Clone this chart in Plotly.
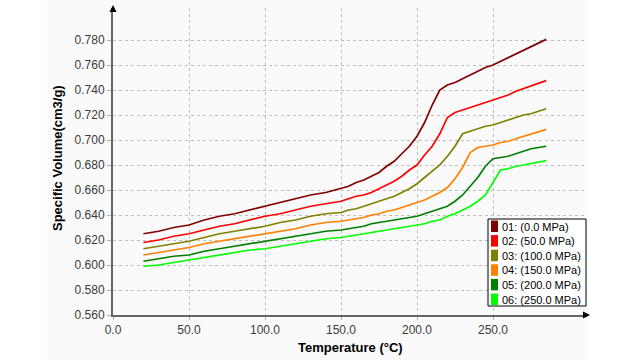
import plotly.graph_objects as go

temps = [20, 30, 40, 50, 60, 70, 80, 90, 100, 110, 120, 130, 140, 150,
         155, 160, 165, 170, 175, 180, 185, 190, 195, 200, 205, 210, 215,
         220, 225, 230, 235, 240, 245, 250, 255, 260, 265, 270, 275, 280, 285]

v_000 = [0.625, 0.627, 0.630, 0.632, 0.636, 0.639, 0.641, 0.644, 0.647, 0.650, 0.653, 0.656, 0.658, 0.661,
         0.663, 0.666, 0.668, 0.671, 0.674, 0.679, 0.683, 0.689, 0.695, 0.703, 0.714, 0.728, 0.740,
         0.744, 0.746, 0.749, 0.752, 0.755, 0.758, 0.760, 0.763, 0.766, 0.769, 0.772, 0.775, 0.778, 0.7805]
v_050 = [0.618, 0.620, 0.623, 0.625, 0.628, 0.631, 0.633, 0.636, 0.639, 0.641, 0.644, 0.647, 0.649, 0.651,
         0.653, 0.655, 0.656, 0.658, 0.661, 0.664, 0.667, 0.671, 0.676, 0.680, 0.688, 0.695, 0.705,
         0.718, 0.722, 0.724, 0.726, 0.728, 0.730, 0.732, 0.734, 0.736, 0.739, 0.741, 0.743, 0.745, 0.7475]
v_100 = [0.613, 0.615, 0.617, 0.619, 0.622, 0.625, 0.627, 0.629, 0.631, 0.634, 0.636, 0.639, 0.641, 0.642,
         0.644, 0.645, 0.647, 0.649, 0.651, 0.653, 0.655, 0.658, 0.661, 0.665, 0.670, 0.675, 0.680,
         0.687, 0.695, 0.705, 0.707, 0.709, 0.711, 0.712, 0.714, 0.716, 0.718, 0.720, 0.721, 0.723, 0.725]
v_150 = [0.608, 0.610, 0.612, 0.614, 0.617, 0.619, 0.621, 0.623, 0.625, 0.627, 0.629, 0.632, 0.634, 0.635,
         0.636, 0.637, 0.638, 0.640, 0.641, 0.643, 0.644, 0.646, 0.648, 0.650, 0.652, 0.655, 0.658,
         0.662, 0.669, 0.678, 0.690, 0.694, 0.695, 0.696, 0.698, 0.699, 0.701, 0.703, 0.705, 0.707, 0.7085]
v_200 = [0.603, 0.605, 0.607, 0.608, 0.611, 0.613, 0.615, 0.617, 0.619, 0.621, 0.623, 0.625, 0.627, 0.628,
         0.629, 0.630, 0.631, 0.633, 0.634, 0.635, 0.636, 0.637, 0.638, 0.639, 0.641, 0.643, 0.645,
         0.647, 0.651, 0.656, 0.663, 0.670, 0.679, 0.685, 0.686, 0.687, 0.689, 0.691, 0.693, 0.694, 0.695]
v_250 = [0.599, 0.600, 0.602, 0.604, 0.606, 0.608, 0.610, 0.612, 0.613, 0.615, 0.617, 0.619, 0.621, 0.622,
         0.623, 0.624, 0.625, 0.626, 0.627, 0.628, 0.629, 0.630, 0.631, 0.632, 0.633, 0.635, 0.636,
         0.639, 0.641, 0.644, 0.647, 0.651, 0.656, 0.666, 0.676, 0.677, 0.679, 0.680, 0.681, 0.682, 0.6835]

series_names = ["01: (0.0 MPa)", "02: (50.0 MPa)", "03: (100.0 MPa)",
                "04: (150.0 MPa)", "05: (200.0 MPa)", "06: (250.0 MPa)"]
series_values = [v_000, v_050, v_100, v_150, v_200, v_250]
series_colors = ["#800000", "#ff0000", "#808000", "#ff8000", "#008000", "#00ff00"]

x_ticks = [0, 50, 100, 150, 200, 250]
y_ticks = [0.56, 0.58, 0.60, 0.62, 0.64, 0.66, 0.68, 0.70, 0.72, 0.74, 0.76, 0.78]

W, H = 640, 360
L, R, T, B = 113, 587, 8, 315
pw, ph = R - L, B - T


def px(x):
    return (x - L) / pw


def py(y):
    return (B - y) / ph


fig = go.Figure()
for name, vals, col in zip(series_names, series_values, series_colors):
    fig.add_trace(go.Scatter(x=temps, y=vals, mode="lines", name=name,
                             line=dict(color=col, width=1.7), showlegend=False))

font_fam = "Liberation Sans, Arial, sans-serif"
shapes = []
annotations = []

# background panel
shapes.append(dict(type="rect", xref="paper", yref="paper", layer="below",
                   x0=px(47), x1=px(588), y0=py(360), y1=py(0),
                   fillcolor="#fafafa", line=dict(width=0)))
# axis arrows
shapes.append(dict(type="path", xref="paper", yref="paper",
                   path=f"M {px(109.5)} {py(12)} L {px(113)} {py(5)} L {px(116.5)} {py(12)} Z",
                   fillcolor="#000000", line=dict(width=0)))
shapes.append(dict(type="path", xref="paper", yref="paper",
                   path=f"M {px(583)} {py(311.5)} L {px(590)} {py(315)} L {px(583)} {py(318.5)} Z",
                   fillcolor="#000000", line=dict(width=0)))

# legend box
lx0, ly0, lx1, ly1 = 488, 219, 586, 306
shapes.append(dict(type="rect", xref="paper", yref="paper",
                   x0=px(lx0), x1=px(lx1), y0=py(ly1), y1=py(ly0),
                   fillcolor="#ffffff", line=dict(color="#000000", width=1)))
pitch = 14.6
for i, (name, col) in enumerate(zip(series_names, series_colors)):
    top = ly0 + 1.5 + i * pitch
    shapes.append(dict(type="rect", xref="paper", yref="paper",
                       x0=px(491), x1=px(498), y0=py(top + 11.5), y1=py(top),
                       fillcolor=col, line=dict(width=0)))
    annotations.append(dict(xref="paper", yref="paper", x=px(499.5), y=py(top + 6),
                            xanchor="left", yanchor="middle", showarrow=False,
                            text=name, font=dict(family=font_fam, size=11, color="#000000")))

# axis titles
annotations.append(dict(xref="paper", yref="paper", x=px(57), y=py(158), textangle=-90,
                        xanchor="center", yanchor="middle", showarrow=False,
                        text="<b>Specific Volume(cm3/g)</b>",
                        font=dict(family=font_fam, size=13, color="#000000")))
annotations.append(dict(xref="paper", yref="paper", x=px(350), y=py(347),
                        xanchor="center", yanchor="middle", showarrow=False,
                        text="<b>Temperature (°C)</b>",
                        font=dict(family=font_fam, size=13, color="#000000")))

tick_font = dict(family=font_fam, size=12, color="#3a3a3a")
fig.update_layout(
    width=W, height=H,
    margin=dict(l=L, r=W - R, t=T, b=H - B, autoexpand=False),
    paper_bgcolor="#ffffff", plot_bgcolor="#fafafa",
    showlegend=False,
    shapes=shapes, annotations=annotations,
    xaxis=dict(range=[0, (R - L) * 50 / 76], tickvals=x_ticks, tickformat=".1f",
               showgrid=True, gridcolor="#bdbdbd", griddash="dot", gridwidth=1,
               zeroline=False, showline=True, linecolor="#666666", linewidth=2,
               ticks="outside", ticklen=3, tickcolor="#b0b0b0", tickfont=tick_font),
    yaxis=dict(range=[0.56, 0.56 + ph * 0.0008], tickvals=y_ticks, tickformat=".3f",
               showgrid=True, gridcolor="#bdbdbd", griddash="dot", gridwidth=1,
               zeroline=False, showline=True, linecolor="#666666", linewidth=2,
               ticks="outside", ticklen=4, tickcolor="#b0b0b0", tickfont=tick_font),
)

fig.write_html("out.html", config={"displayModeBar": False},
               post_script="document.body.style.margin='0';document.body.style.overflow='hidden';")
